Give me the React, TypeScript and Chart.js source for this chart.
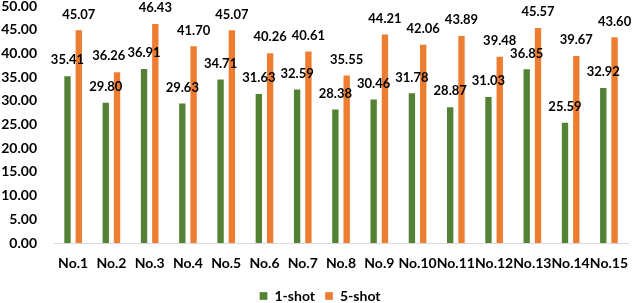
import React, { useEffect, useRef } from "react";
import { Chart, registerables } from "chart.js";

Chart.register(...registerables);

const categories = ["No.1","No.2","No.3","No.4","No.5","No.6","No.7","No.8","No.9","No.10","No.11","No.12","No.13","No.14","No.15"];
const oneShot = [35.41, 29.80, 36.91, 29.63, 34.71, 31.63, 32.59, 28.38, 30.46, 31.78, 28.87, 31.03, 36.85, 25.59, 32.92];
const fiveShot = [45.07, 36.26, 46.43, 41.70, 45.07, 40.26, 40.61, 35.55, 44.21, 42.06, 43.89, 39.48, 45.57, 39.67, 43.60];
const seriesNames = ["1-shot", "5-shot"];

const FONT = "Lato, 'Noto Sans', sans-serif";

const labelPlugin = {
  id: "barLabels",
  afterDatasetsDraw(chart: any) {
    const ctx = chart.ctx;
    ctx.save();
    ctx.font = `bold 13px ${FONT}`;
    ctx.fillStyle = "#000";
    ctx.textAlign = "center";
    ctx.textBaseline = "middle";
    const OFF = 15;
    const greenMeta = chart.getDatasetMeta(0);
    const orangeMeta = chart.getDatasetMeta(1);
    const gData = chart.data.datasets[0].data;
    const oData = chart.data.datasets[1].data;
    const n = gData.length;
    for (let i = 0; i < n; i++) {
      const gb = greenMeta.data[i];
      const gt = Number(gData[i]).toFixed(2);
      ctx.fillText(gt, gb.x, gb.y - OFF);
      const ob = orangeMeta.data[i];
      const ot = Number(oData[i]).toFixed(2);
      let ox = ob.x;
      const oy = ob.y - OFF;
      if (i + 1 < n) {
        const nb = greenMeta.data[i + 1];
        const nt = Number(gData[i + 1]).toFixed(2);
        const ny = nb.y - OFF;
        const ow = ctx.measureText(ot).width;
        const nw = ctx.measureText(nt).width;
        const overlap = (ox + ow / 2) - (nb.x - nw / 2);
        if (Math.abs(ny - oy) < 10 && overlap > -2) {
          ox -= overlap + 2;
        }
      }
      ctx.fillText(ot, ox, oy);
    }
    ctx.restore();
  },
};

export default function App() {
  const ref = useRef<HTMLCanvasElement | null>(null);
  useEffect(() => {
    if (!ref.current) return;
    const chart = new Chart(ref.current, {
      type: "bar",
      data: {
        labels: categories,
        datasets: [
          { label: seriesNames[0], data: oneShot, backgroundColor: "#548235", borderColor: "rgba(255,255,255,0.3)", borderWidth: 1, categoryPercentage: 0.59, barPercentage: 0.74 },
          { label: seriesNames[1], data: fiveShot, backgroundColor: "#ED7D31", borderColor: "rgba(255,255,255,0.3)", borderWidth: 1, categoryPercentage: 0.59, barPercentage: 0.74 },
        ],
      },
      options: {
        animation: false,
        responsive: false,
        maintainAspectRatio: false,
        layout: { padding: { top: 0, right: 0, left: 0, bottom: -10 } },
        plugins: {
          tooltip: { enabled: false },
          legend: {
            position: "bottom",
            labels: {
              boxWidth: 8,
              boxHeight: 8,
              padding: 10,
              color: "#000",
              font: { family: FONT, size: 14, weight: "bold" },
            },
          },
        },
        scales: {
          x: {
            grid: { display: false, drawTicks: false },
            border: { display: true, color: "#d9d9d9", width: 1 },
            afterFit: (s: any) => { s.height = 36; },
            ticks: {
              color: "#000",
              padding: 12,
              maxRotation: 0,
              autoSkip: false,
              font: { family: FONT, size: 14, weight: "bold" },
            },
          },
          y: {
            min: 0,
            max: 50,
            grid: { display: false, drawTicks: false },
            border: { display: false },
            afterFit: (s: any) => { s.width = 54; s.paddingTop = 6; },
            ticks: {
              stepSize: 5,
              padding: 17,
              color: "#000",
              font: { family: FONT, size: 14, weight: "bold" },
              callback: (v: any) => Number(v).toFixed(2),
            },
          },
        },
      },
      plugins: [labelPlugin],
    });
    return () => chart.destroy();
  }, []);
  return (
    <div style={{ position: "fixed", left: 0, top: 0, width: 640, height: 303, background: "#fff" }}>
      <canvas ref={ref} width={640} height={303} style={{ width: 640, height: 303 }} />
    </div>
  );
}
